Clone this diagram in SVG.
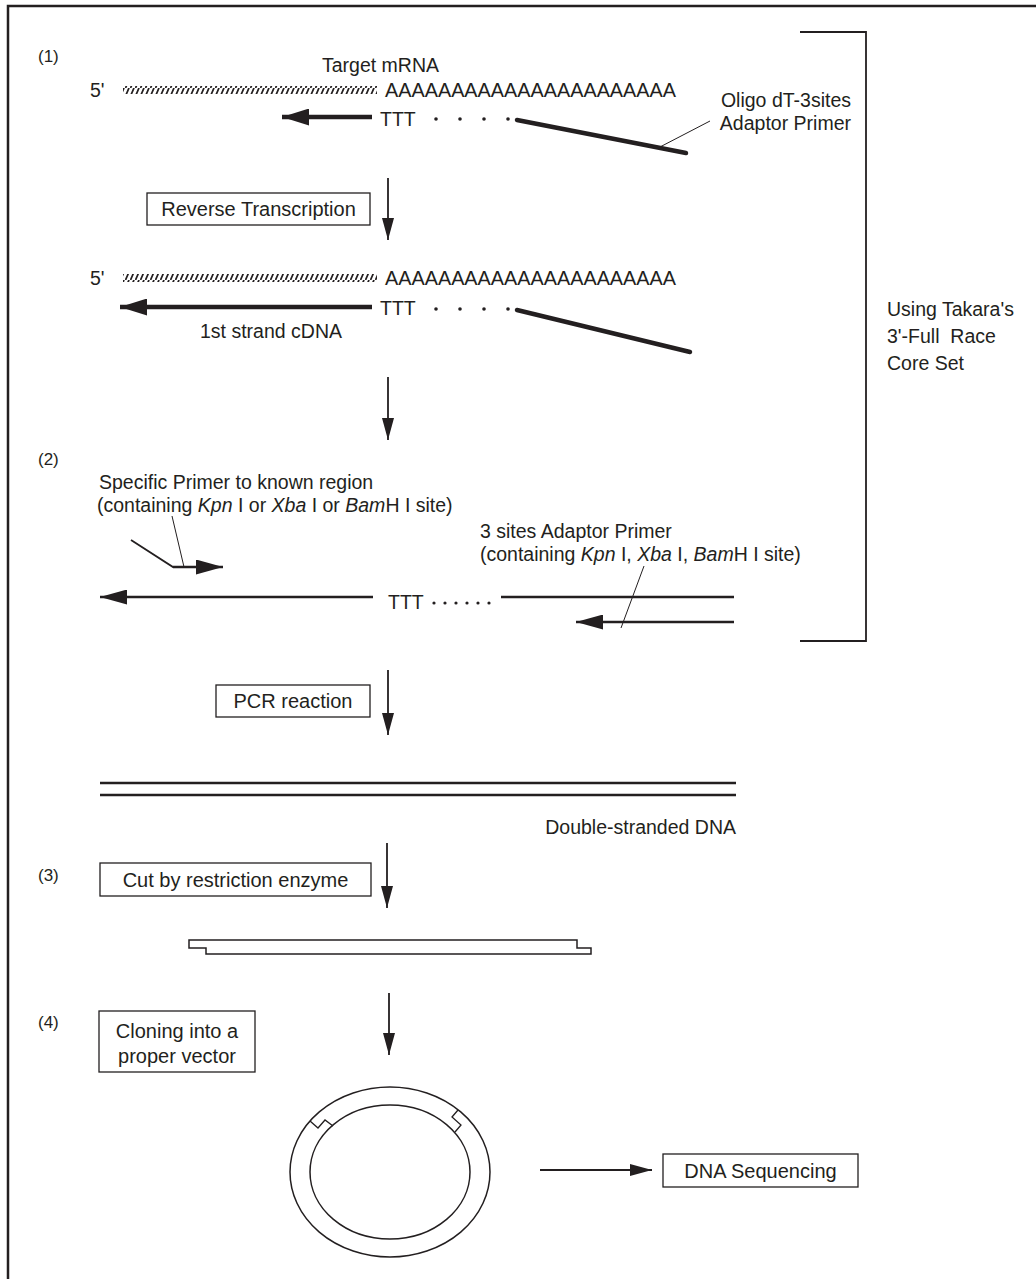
<svg xmlns="http://www.w3.org/2000/svg" width="1036" height="1279" viewBox="0 0 1036 1279">
<defs>
<style>
text{font-family:"Liberation Sans",Arial,sans-serif;font-size:19.5px;fill:#231f20}
.box{fill:#fff;stroke:#231f20;stroke-width:1.3}
.bt{font-size:20px;text-anchor:middle}
.num{font-size:17px}
.thin{stroke:#231f20;stroke-width:1.8;fill:none}
.thick{stroke:#231f20;stroke-width:4.5;fill:none}
.med{stroke:#231f20;stroke-width:2.5;fill:none}
.lead{stroke:#231f20;stroke-width:1;fill:none}
.dot{fill:#231f20}
</style>
<pattern id="hatch" width="5" height="8" patternUnits="userSpaceOnUse">
<path d="M0.5,8 L4,0" stroke="#231f20" stroke-width="1.8"/>
</pattern>
<marker id="hThin" markerUnits="userSpaceOnUse" markerWidth="22" markerHeight="12" refX="22" refY="6" orient="auto"><path d="M0,0 L22,6 L0,12 z" fill="#231f20"/></marker>
<marker id="hThick" markerUnits="userSpaceOnUse" markerWidth="27" markerHeight="17" refX="27" refY="8.5" orient="auto"><path d="M0,0 L27,8.5 L0,17 z" fill="#231f20"/></marker>
<marker id="hMed" markerUnits="userSpaceOnUse" markerWidth="27" markerHeight="15" refX="27" refY="7.5" orient="auto"><path d="M0,0 L27,7.5 L0,15 z" fill="#231f20"/></marker>
</defs>
<rect width="1036" height="1279" fill="#fff"/>
<path d="M8,1279 L8,6 L1036,6" fill="none" stroke="#231f20" stroke-width="2.5"/>

<g id="connectors">
<line class="thin" x1="388" y1="178" x2="388" y2="240" marker-end="url(#hThin)"/>
<line class="thin" x1="388" y1="377" x2="388" y2="440" marker-end="url(#hThin)"/>
<line class="thin" x1="388" y1="670" x2="388" y2="735" marker-end="url(#hThin)"/>
<line class="thin" x1="387" y1="843" x2="387" y2="908" marker-end="url(#hThin)"/>
<line class="thin" x1="389" y1="993" x2="389" y2="1055" marker-end="url(#hThin)"/>
<line class="thin" x1="540" y1="1170" x2="652" y2="1170" marker-end="url(#hThin)"/>
</g>

<g id="step1">
<text class="num" x="38" y="62">(1)</text>
<text x="322" y="72">Target mRNA</text>
<text x="90" y="97">5'</text>
<rect x="123" y="86" width="254" height="8" fill="url(#hatch)"/>
<text x="385" y="97" textLength="291" lengthAdjust="spacingAndGlyphs">AAAAAAAAAAAAAAAAAAAAAA</text>
<line class="thick" x1="372" y1="117" x2="282" y2="117" marker-end="url(#hThick)"/>
<text x="380" y="126">TTT</text>
<circle class="dot" cx="436" cy="119" r="1.8"/><circle class="dot" cx="460" cy="119" r="1.8"/><circle class="dot" cx="484" cy="119" r="1.8"/><circle class="dot" cx="508" cy="119" r="1.8"/>
<line class="thick" x1="517" y1="120" x2="686" y2="153" stroke-linecap="round"/>
<line class="lead" x1="658" y1="148" x2="710" y2="121"/>
<text x="851" y="107" text-anchor="end">Oligo dT-3sites</text>
<text x="851" y="130" text-anchor="end">Adaptor Primer</text>
</g>

<g id="rt-box">
<rect class="box" x="147" y="193" width="223" height="32"/>
<text class="bt" x="258.5" y="216">Reverse Transcription</text>
</g>

<g id="first-strand">
<text x="90" y="285">5'</text>
<rect x="123" y="274" width="254" height="8" fill="url(#hatch)"/>
<text x="385" y="285" textLength="291" lengthAdjust="spacingAndGlyphs">AAAAAAAAAAAAAAAAAAAAAA</text>
<line class="thick" x1="372" y1="307" x2="120" y2="307" marker-end="url(#hThick)"/>
<text x="380" y="315">TTT</text>
<circle class="dot" cx="436" cy="309" r="1.8"/><circle class="dot" cx="460" cy="309" r="1.8"/><circle class="dot" cx="484" cy="309" r="1.8"/><circle class="dot" cx="508" cy="309" r="1.8"/>
<line class="thick" x1="517" y1="310" x2="690" y2="352" stroke-linecap="round"/>
<text x="200" y="338">1st strand cDNA</text>
</g>

<g id="step2">
<text class="num" x="38" y="465">(2)</text>
<text x="99" y="489">Specific Primer to known region</text>
<text x="97" y="512">(containing <tspan font-style="italic">Kpn</tspan> I or <tspan font-style="italic">Xba</tspan> I or <tspan font-style="italic">Bam</tspan>H I site)</text>
<polyline class="thin" points="131,540 173,567 200,567"/>
<line class="med" x1="173" y1="567" x2="223" y2="567" marker-end="url(#hMed)"/>
<line class="lead" x1="172" y1="516" x2="184" y2="567"/>
<line class="med" x1="373" y1="597" x2="100" y2="597" marker-end="url(#hMed)"/>
<text x="388" y="609">TTT</text>
<circle class="dot" cx="434" cy="603" r="1.6"/><circle class="dot" cx="445" cy="603" r="1.6"/><circle class="dot" cx="456" cy="603" r="1.6"/><circle class="dot" cx="467" cy="603" r="1.6"/><circle class="dot" cx="478" cy="603" r="1.6"/><circle class="dot" cx="489" cy="603" r="1.6"/>
<line class="med" x1="501" y1="597" x2="734" y2="597"/>
<line class="med" x1="734" y1="622" x2="576" y2="622" marker-end="url(#hMed)"/>
<line class="lead" x1="644" y1="566" x2="621" y2="628"/>
<text x="480" y="538">3 sites Adaptor Primer</text>
<text x="480" y="561">(containing <tspan font-style="italic">Kpn</tspan> I, <tspan font-style="italic">Xba</tspan> I, <tspan font-style="italic">Bam</tspan>H I site)</text>
</g>

<g id="kit-bracket">
<polyline points="800,32 866,32 866,641 800,641" fill="none" stroke="#231f20" stroke-width="1.8"/>
<text x="887" y="316">Using Takara's</text>
<text x="887" y="343" xml:space="preserve">3'-Full  Race</text>
<text x="887" y="370">Core Set</text>
</g>

<g id="pcr-box">
<rect class="box" x="216" y="685" width="154" height="32"/>
<text class="bt" x="293" y="708">PCR reaction</text>
</g>

<g id="dsDNA">
<line class="med" x1="100" y1="783" x2="736" y2="783"/>
<line class="med" x1="100" y1="795" x2="736" y2="795"/>
<text x="736" y="834" text-anchor="end">Double-stranded DNA</text>
</g>

<g id="step3">
<text class="num" x="38" y="881">(3)</text>
<rect class="box" x="100" y="863" width="271" height="33"/>
<text class="bt" x="235.5" y="887">Cut by restriction enzyme</text>
</g>

<g id="fragment">
<polygon points="189,940 577,940 577,948 591,948 591,954 206,954 206,948 189,948" fill="#fff" stroke="#231f20" stroke-width="1.5"/>
</g>

<g id="step4">
<text class="num" x="38" y="1028">(4)</text>
<rect class="box" x="99" y="1011" width="156" height="61"/>
<text class="bt" x="177" y="1038">Cloning into a</text>
<text class="bt" x="177" y="1063">proper vector</text>
</g>

<g id="plasmid">
<ellipse cx="390" cy="1172" rx="100" ry="85" fill="none" stroke="#231f20" stroke-width="1.5"/>
<ellipse cx="390" cy="1172" rx="80" ry="67" fill="none" stroke="#231f20" stroke-width="1.5"/>
<polyline points="310,1121 318,1128 325,1120 333,1126" fill="none" stroke="#231f20" stroke-width="1.3"/>
<polyline points="458,1110 452,1117 461,1125 455,1132" fill="none" stroke="#231f20" stroke-width="1.3"/>
</g>

<g id="sequencing">
<rect class="box" x="663" y="1154" width="195" height="33"/>
<text class="bt" x="760.5" y="1178">DNA Sequencing</text>
</g>
</svg>
